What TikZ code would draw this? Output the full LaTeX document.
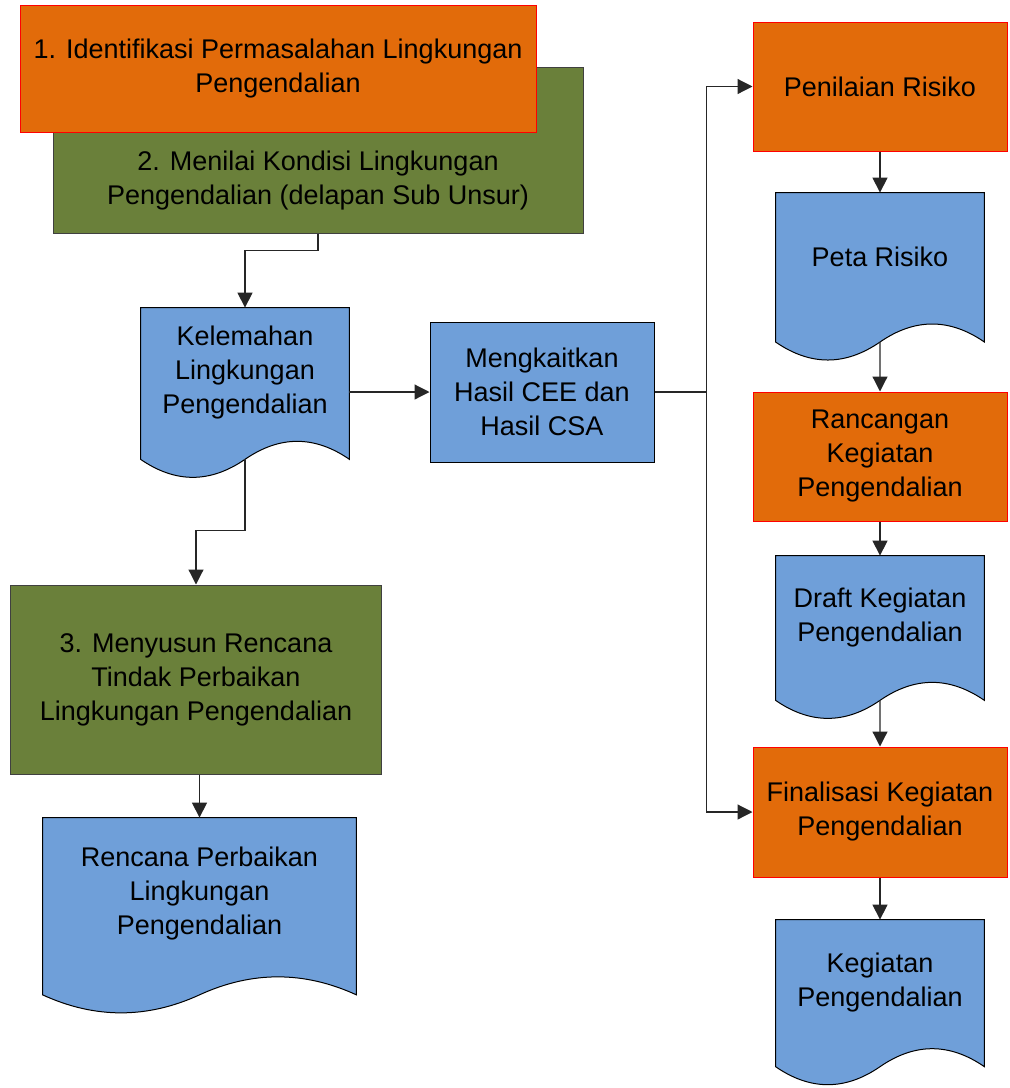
\documentclass[tikz,border=0pt]{standalone}
\usepackage{fontspec}
\setmainfont{Liberation Sans}
\usetikzlibrary{arrows.meta,calc,backgrounds}
\definecolor{oranyefill}{HTML}{E26B0A}
\definecolor{hijaufill}{HTML}{6A803A}
\definecolor{birufill}{HTML}{6F9FD9}
\tikzset
{
    kotak/.style     = {rectangle, align=center, inner sep=0pt, font=\fontsize{13.5}{17}\selectfont},
    oranye/.style    = {kotak, draw=red, fill=oranyefill, line width=0.5pt},
    hijau/.style     = {kotak, draw=black!75, fill=hijaufill, line width=0.5pt},
    biru/.style      = {kotak, draw=black, fill=birufill, line width=0.5pt},
    dokumen/.style   = {kotak},
    bentukdok/.style = {draw=black, fill=birufill, line width=0.5pt},
    alur/.style      = {draw=black!85, line width=0.6pt}
}

\begin{document}
\begin{tikzpicture}[x=0.5pt, y=-0.5pt, >={Triangle[length=7.5pt,width=7.5pt]}]
    \useasboundingbox (0,0) rectangle (1009,1088);

    % left column
    \node [hijau, minimum width=265pt, minimum height=83pt] (menilai) at (318,150) {};
    \node [kotak] (menilaiteks) at (318,180.5) {2. Menilai Kondisi Lingkungan \\ Pengendalian (delapan Sub Unsur)};
    \node [oranye, minimum width=258pt, minimum height=63.5pt] (identifikasi) at (278,68.5) {1. Identifikasi Permasalahan Lingkungan \\ Pengendalian};
    \node [dokumen, minimum width=104pt, minimum height=65pt] (kelemahan) at (245,373) {Kelemahan \\ Lingkungan \\ Pengendalian};
    \node [biru, minimum width=112pt, minimum height=70pt] (kaitkan) at (542,392) {Mengkaitkan \\ Hasil CEE dan \\ Hasil CSA};
    \node [hijau, minimum width=185.5pt, minimum height=94.5pt] (menyusun) at (196,679.5) {3. Menyusun Rencana \\ Tindak Perbaikan \\ Lingkungan Pengendalian};
    \node [dokumen, minimum width=156.5pt, minimum height=76pt] (rencana) at (199.5,894) {Rencana Perbaikan \\ Lingkungan \\ Pengendalian};

    % right column
    \node [oranye, minimum width=127pt, minimum height=64.5pt] (penilaian) at (880,86.5) {Penilaian Risiko};
    \node [dokumen, minimum width=104pt, minimum height=64pt] (peta) at (880,257) {Peta Risiko};
    \node [oranye, minimum width=127pt, minimum height=64.5pt] (rancangan) at (880,456.5) {Rancangan \\ Kegiatan \\ Pengendalian};
    \node [dokumen, minimum width=104pt, minimum height=62pt] (draft) at (880,618) {Draft Kegiatan \\ Pengendalian};
    \node [oranye, minimum width=127pt, minimum height=65pt] (finalisasi) at (880,812) {Finalisasi Kegiatan \\ Pengendalian};
    \node [dokumen, minimum width=104pt, minimum height=63pt] (kegiatan) at (880,983) {Kegiatan \\ Pengendalian};

    % document shapes with wavy bottom
    \begin{scope}[on background layer]
        \foreach \n in {kelemahan,rencana,peta,draft,kegiatan}
        {
            \coordinate (\n-r) at ($(\n.south east)!-0.16!(\n.north east)$);
            \coordinate (\n-l) at ($(\n.south west)!-0.16!(\n.north west)$);
            \coordinate (\n-b) at ($(\n-l)!0.5!(\n-r)$);
            \draw [bentukdok] (\n.north west) -- (\n.north east) -- (\n-r)
                .. controls ($(\n-r)!1/3!(\n-b)+(0,12pt)$) and ($(\n-r)!2/3!(\n-b)+(0,12pt)$) .. (\n-b)
                .. controls ($(\n-b)!1/3!(\n-l)+(0,-12pt)$) and ($(\n-b)!2/3!(\n-l)+(0,-12pt)$) .. (\n-l)
                -- cycle;
        }
    \end{scope}

    % connectors
    \draw [alur, ->] (menilai.south) -- ++(0,-8.5pt) -| (kelemahan.north);
    \draw [alur, ->] (kelemahan.east |- kaitkan.west) -- (kaitkan.west);
    \draw [alur, ->] (kaitkan.east) -- ++(26pt,0) |- (penilaian.west);
    \draw [alur, ->] (kaitkan.east) -- ++(26pt,0) |- (finalisasi.west);
    \draw [alur, ->] (kelemahan-b) -- ++(0,-35.5pt) -| (menyusun.north);
    \draw [alur, ->] (menyusun.south -| rencana.north) -- (rencana.north);
    \draw [alur, ->] (penilaian.south) -- (peta.north);
    \draw [alur, ->] (peta-b) -- (rancangan.north);
    \draw [alur, ->] (rancangan.south) -- (draft.north);
    \draw [alur, ->] (draft-b) -- (finalisasi.north);
    \draw [alur, ->] (finalisasi.south) -- (kegiatan.north);
\end{tikzpicture}
\end{document}
